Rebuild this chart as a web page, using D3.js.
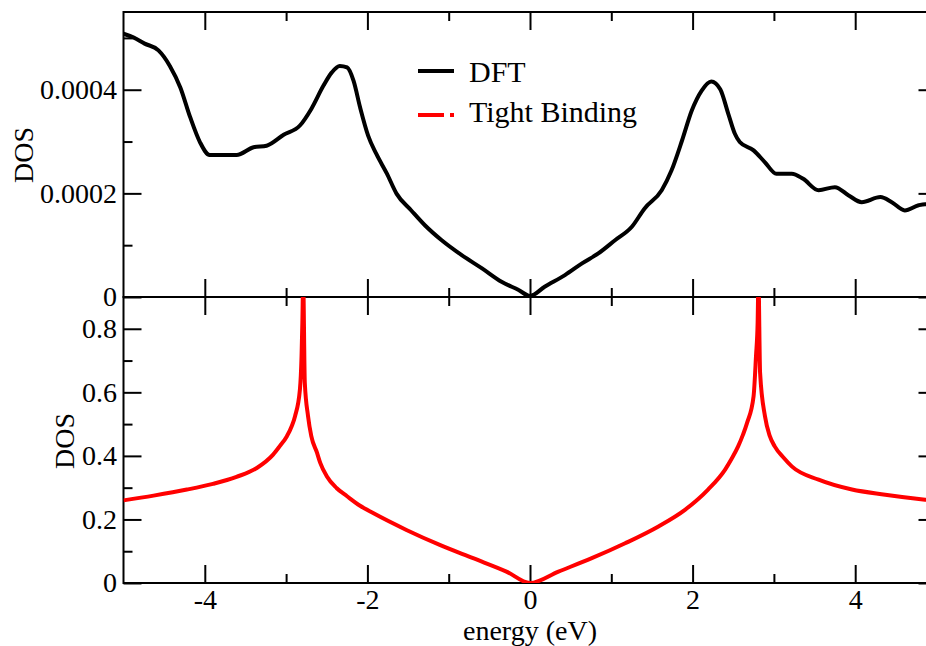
<!DOCTYPE html>
<html>
<head>
<meta charset="utf-8">
<script src="https://cdn.jsdelivr.net/npm/d3@7"></script>
<style>
  body { margin: 0; background: #fff; }
  text { font-family: "Liberation Serif", "Times New Roman", serif; }
</style>
</head>
<body>
<div id="chart"></div>
<script>
// DFT density of states (top panel)
var dftEnergy = [-5.0, -4.88, -4.74, -4.57, -4.43, -4.30, -4.18, -4.06, -3.94, -3.61, -3.40, -3.24, -3.03, -2.83, -2.69, -2.54,
  -2.44, -2.34, -2.25, -2.17, -2.09, -1.99, -1.89, -1.76, -1.64, -1.46, -1.29, -1.09, -0.84, -0.59, -0.35, -0.14, 0,
  0.18, 0.43, 0.64, 0.84, 1.05, 1.25, 1.41, 1.62, 1.74, 1.87, 1.99, 2.11, 2.23, 2.34, 2.44, 2.52, 2.58, 2.75, 2.89,
  3.03, 3.22, 3.36, 3.55, 3.75, 3.92, 4.08, 4.31, 4.45, 4.61, 4.78, 4.86, 5.0];
var dftDos = [0.000508, 0.000501, 0.000489, 0.000476, 0.000446, 0.000404, 0.000347, 0.000299, 0.000274, 0.000274, 0.000289,
  0.000292, 0.000313, 0.000331, 0.000363, 0.000408, 0.000433, 0.000446, 0.000443, 0.000417, 0.000366, 0.000311, 0.000276,
  0.000238, 0.000199, 0.000167, 0.000138, 0.000110, 0.0000808, 0.0000552, 0.0000294, 0.0000135, 0.000002,
  0.0000198, 0.0000423, 0.0000648, 0.0000840, 0.000110, 0.000135, 0.000171, 0.000206, 0.000244, 0.000302, 0.000360,
  0.000398, 0.000416, 0.000401, 0.000353, 0.000315, 0.000299, 0.000283, 0.000260, 0.000238, 0.000238, 0.000228,
  0.000206, 0.000212, 0.000196, 0.000183, 0.000193, 0.000183, 0.000167, 0.000177, 0.000179, 0.000178];

// tight binding density of states (bottom panel)
var tbEnergy = [-5.0, -4.63, -4.22, -3.90, -3.61, -3.36, -3.16, -3.08, -2.99, -2.93, -2.89, -2.83, -2.81, -2.80, -2.79,
  -2.77, -2.73, -2.69, -2.62, -2.58, -2.50, -2.38, -2.25, -2.09, -1.93, -1.52, -1.11, -0.70, -0.29, 0,
  0.35, 0.76, 1.17, 1.58, 1.91, 2.19, 2.40, 2.48, 2.56, 2.62, 2.67, 2.75, 2.78, 2.80, 2.81,
  2.83, 2.89, 2.95, 3.01, 3.12, 3.22, 3.55, 3.96, 4.37, 4.86, 5.0];
var tbDos = [0.260, 0.275, 0.294, 0.312, 0.334, 0.362, 0.404, 0.430, 0.462, 0.494, 0.525, 0.609, 0.715, 0.820, 0.95,
  0.631, 0.525, 0.462, 0.410, 0.378, 0.336, 0.299, 0.273, 0.243, 0.220, 0.167, 0.120, 0.078, 0.036, 0,
  0.036, 0.078, 0.125, 0.178, 0.231, 0.294, 0.357, 0.391, 0.430, 0.467, 0.504, 0.588, 0.715, 0.820, 0.95,
  0.662, 0.525, 0.462, 0.430, 0.394, 0.367, 0.325, 0.294, 0.278, 0.262, 0.258];

var xMajor = [-4, -2, 0, 2, 4],
    xMinor = [-3, -1, 1, 3];
var topMajor = [0, 0.0002, 0.0004],
    topMinor = [0.0001, 0.0003, 0.0005];
var botMajor = [0, 0.2, 0.4, 0.6, 0.8],
    botMinor = [0.1, 0.3, 0.5, 0.7];
var seriesNames = ["DFT", "Tight Binding"];

var width = 926, height = 646;
var left = 123.5, right = 936.5;
var serif = '"Liberation Serif", "Times New Roman", serif';

var svg = d3.select("#chart").append("svg")
    .attr("width", width)
    .attr("height", height);

var x = d3.scaleLinear().domain([-5, 5]).range([left, right]);
var yTop = d3.scaleLinear().domain([0, 0.00055]).range([297, 12]);
var yBot = d3.scaleLinear().domain([0, 0.9]).range([583, 297]);

function styleAxis(g) {
    g.select(".domain").remove();
    g.selectAll("line").attr("stroke", "#000").attr("stroke-width", 2);
    g.attr("font-family", serif).attr("font-size", 28);
    g.selectAll("text").attr("fill", "#000").attr("font-family", serif);
}

function drawPanel(y, major, minor, fmtY, showX, id) {
    var top = y.range()[1], bottom = y.range()[0];
    var g = svg.append("g");

    // ticks on all four sides, pointing inwards
    g.append("g").attr("transform", "translate(" + left + ",0)")
        .call(d3.axisLeft(y).tickValues(major).tickSize(-18).tickPadding(6.5).tickFormat(fmtY)).call(styleAxis);
    g.append("g").attr("transform", "translate(" + left + ",0)")
        .call(d3.axisLeft(y).tickValues(minor).tickSize(-9).tickFormat("")).call(styleAxis);
    g.append("g").attr("transform", "translate(" + right + ",0)")
        .call(d3.axisRight(y).tickValues(major).tickSize(-18).tickFormat("")).call(styleAxis);
    g.append("g").attr("transform", "translate(" + right + ",0)")
        .call(d3.axisRight(y).tickValues(minor).tickSize(-9).tickFormat("")).call(styleAxis);

    g.append("g").attr("transform", "translate(0," + top + ")")
        .call(d3.axisTop(x).tickValues(xMajor).tickSize(-18).tickFormat("")).call(styleAxis);
    g.append("g").attr("transform", "translate(0," + top + ")")
        .call(d3.axisTop(x).tickValues(xMinor).tickSize(-9).tickFormat("")).call(styleAxis);
    g.append("g").attr("transform", "translate(0," + bottom + ")")
        .call(d3.axisBottom(x).tickValues(xMajor).tickSize(-18).tickPadding(6)
            .tickFormat(showX ? function(d) { return String(d); } : "")).call(styleAxis);
    g.append("g").attr("transform", "translate(0," + bottom + ")")
        .call(d3.axisBottom(x).tickValues(xMinor).tickSize(-9).tickFormat("")).call(styleAxis);

    svg.append("clipPath").attr("id", id)
        .append("rect")
        .attr("x", left).attr("y", top)
        .attr("width", right - left).attr("height", bottom - top);

    g.append("rect")
        .attr("x", left).attr("y", top)
        .attr("width", right - left).attr("height", bottom - top)
        .attr("fill", "none")
        .attr("stroke", "#000")
        .attr("stroke-width", 2);
    return g;
}

var topPanel = drawPanel(yTop, topMajor, topMinor,
    function(d) { return d === 0 ? "0" : d.toFixed(4); }, false, "clipTop");
var botPanel = drawPanel(yBot, botMajor, botMinor,
    function(d) { return d === 0 ? "0" : d.toFixed(1); }, true, "clipBot");

// the curves
var lineTop = d3.line()
    .x(function(d, i) { return x(dftEnergy[i]); })
    .y(function(d) { return yTop(d); })
    .curve(d3.curveMonotoneX);
svg.append("path")
    .attr("clip-path", "url(#clipTop)")
    .attr("d", lineTop(dftDos))
    .attr("fill", "none")
    .attr("stroke", "#000")
    .attr("stroke-width", 4)
    .attr("stroke-linejoin", "round");

var lineBot = d3.line()
    .x(function(d, i) { return x(tbEnergy[i]); })
    .y(function(d) { return yBot(d); })
    .curve(d3.curveMonotoneX);
svg.append("path")
    .attr("clip-path", "url(#clipBot)")
    .attr("d", lineBot(tbDos))
    .attr("fill", "none")
    .attr("stroke", "#ff0000")
    .attr("stroke-width", 4)
    .attr("stroke-linejoin", "round");

// axis titles
svg.append("text")
    .attr("transform", "translate(33,155) rotate(-90)")
    .attr("text-anchor", "middle")
    .attr("font-family", serif)
    .attr("font-size", 28)
    .text("DOS");
svg.append("text")
    .attr("transform", "translate(74,441) rotate(-90)")
    .attr("text-anchor", "middle")
    .attr("font-family", serif)
    .attr("font-size", 28)
    .text("DOS");
svg.append("text")
    .attr("x", 530)
    .attr("y", 639.5)
    .attr("text-anchor", "middle")
    .attr("font-family", serif)
    .attr("font-size", 28)
    .text("energy (eV)");

// legend
var legend = svg.append("g").attr("transform", "translate(418,0)");
legend.append("line")
    .attr("x1", 0).attr("x2", 36).attr("y1", 71).attr("y2", 71)
    .attr("stroke", "#000").attr("stroke-width", 4);
legend.append("line")
    .attr("x1", 0).attr("x2", 36).attr("y1", 115).attr("y2", 115)
    .attr("stroke", "#ff0000").attr("stroke-width", 4)
    .attr("stroke-dasharray", "26,6,4,6");
legend.selectAll("text.lab")
    .data(seriesNames)
    .enter()
    .append("text")
    .attr("class", "lab")
    .attr("x", 51)
    .attr("y", function(d, i) { return 82 + i * 40; })
    .attr("font-family", serif)
    .attr("font-size", 30)
    .text(function(d) { return d; });
</script>
</body>
</html>
